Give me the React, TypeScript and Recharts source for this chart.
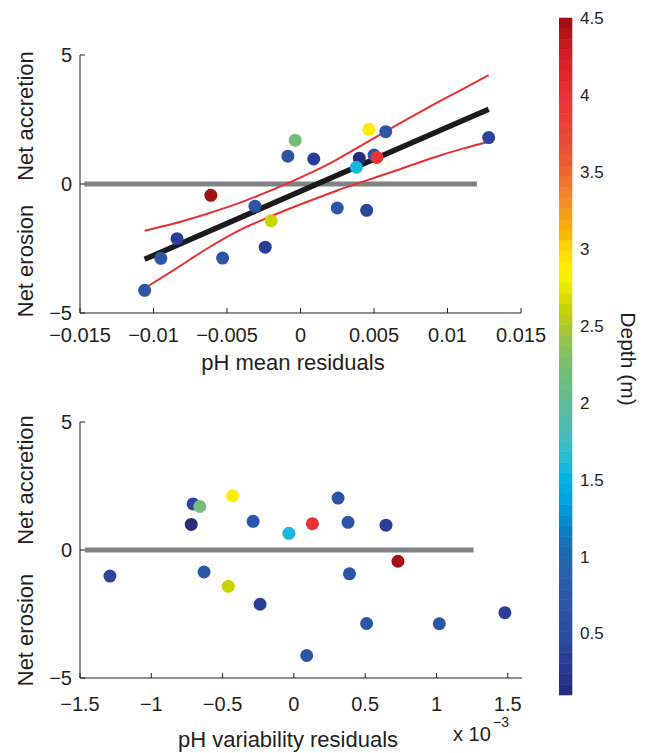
import { ScatterChart, Scatter, XAxis, YAxis, ComposedChart, ReferenceArea } from "recharts";

const FONT = "'Liberation Sans', Arial, Helvetica, sans-serif";
const INK = "#231f20";

// one entry per site (same order in every array)
const netChange = [-4.12, -2.88, -2.87, -2.12, -2.45, -0.44, -0.86, -1.42, -0.93, -1.02, 1.8, 1.08, 1.12, 0.97, 1.0, 1.7, 0.65, 2.12, 2.03, 1.03];
const depth = [0.65, 0.7, 0.65, 0.35, 0.35, 4.5, 0.7, 2.6, 0.7, 0.4, 0.4, 0.7, 0.65, 0.35, 0.15, 2.2, 1.6, 2.85, 0.7, 3.95];
const phMeanResid = [-0.0106, -0.0095, -0.0053, -0.0084, -0.0024, -0.0061, -0.0031, -0.002, 0.0025, 0.0045, 0.0128, -0.00086, 0.005, 0.0009, 0.004, -0.00036, 0.0038, 0.00465, 0.0058, 0.0052];
const phVarResid = [0.09, 1.02, 0.51, -0.237, 1.48, 0.73, -0.63, -0.46, 0.39, -1.29, -0.707, 0.38, -0.286, 0.646, -0.72, -0.66, -0.035, -0.43, 0.31, 0.13]; // x 10^-3

// regression fit and confidence band (top panel)
const fitLine = [{ x: -0.0106, y: -2.92 }, { x: 0.0128, y: 2.9 }];
const upperBand = [
  { x: -0.0106, y: -1.81 }, { x: -0.0086, y: -1.53 }, { x: -0.0064, y: -1.16 }, { x: -0.0041, y: -0.72 },
  { x: -0.0018, y: -0.2 }, { x: 0.0005, y: 0.38 }, { x: 0.002, y: 0.8 }, { x: 0.0043, y: 1.55 },
  { x: 0.0066, y: 2.3 }, { x: 0.0088, y: 3.0 }, { x: 0.0111, y: 3.7 }, { x: 0.0128, y: 4.22 },
];
const lowerBand = [
  { x: -0.0106, y: -4.04 }, { x: -0.0086, y: -3.33 }, { x: -0.0064, y: -2.52 }, { x: -0.0041, y: -1.78 },
  { x: -0.0018, y: -1.2 }, { x: 0.0005, y: -0.68 }, { x: 0.0025, y: -0.25 }, { x: 0.0043, y: 0.1 },
  { x: 0.0066, y: 0.54 }, { x: 0.0088, y: 0.98 }, { x: 0.0111, y: 1.38 }, { x: 0.0128, y: 1.64 },
];
const zeroTop = [{ x: -0.0147, y: 0 }, { x: 0.012, y: 0 }];
const zeroBottom = [{ x: -1.465, y: 0 }, { x: 1.26, y: 0 }];

const meanTicks = [-0.015, -0.01, -0.005, 0, 0.005, 0.01, 0.015];
const varTicks = [-1.5, -1, -0.5, 0, 0.5, 1, 1.5];
const yTicks = [-5, 0, 5];
const depthTicks = [0.5, 1, 1.5, 2, 2.5, 3, 3.5, 4, 4.5];
const depthRange = [0.1, 4.5];

// colormap (depth, colour)
const depthStops: [number, string][] = [
  [0.1, "#262a78"], [0.3, "#2a3a98"], [0.5, "#2c4e9f"], [0.7, "#2b57a5"], [0.9, "#295fac"],
  [1.05, "#1f6bb3"], [1.2, "#0682c4"], [1.35, "#00a0da"], [1.5, "#00b2e3"], [1.65, "#2abcd2"],
  [1.8, "#4bbcba"], [2.0, "#60ba98"], [2.15, "#6fbd80"], [2.3, "#80be6a"], [2.45, "#a0c542"],
  [2.6, "#c6d300"], [2.7, "#e0e000"], [2.85, "#fff200"], [3.0, "#ffd800"], [3.1, "#f9b700"],
  [3.3, "#f3902a"], [3.5, "#ee6530"], [3.7, "#e94a35"], [4.0, "#e83238"], [4.2, "#e01f26"],
  [4.35, "#c0181e"], [4.5, "#9b0f12"],
];
const N_COLORS = 64;

function hexToRgb(h: string) {
  return [1, 3, 5].map((i) => parseInt(h.slice(i, i + 2), 16));
}

function cmap(v: number) {
  const s = depthStops;
  if (v <= s[0][0]) return s[0][1];
  if (v >= s[s.length - 1][0]) return s[s.length - 1][1];
  let i = 0;
  while (s[i + 1][0] < v) i++;
  const t = (v - s[i][0]) / (s[i + 1][0] - s[i][0]);
  const a = hexToRgb(s[i][1]);
  const b = hexToRgb(s[i + 1][1]);
  const c = a.map((av, k) => Math.round(av + (b[k] - av) * t));
  return `rgb(${c[0]},${c[1]},${c[2]})`;
}

const step = (depthRange[1] - depthRange[0]) / N_COLORS;
const segments = Array.from({ length: N_COLORS }, (_, i) => {
  const lo = depthRange[0] + i * step;
  return { lo, hi: lo + step, color: cmap(lo + step / 2) };
});

function depthColor(d: number) {
  const i = Math.min(N_COLORS - 1, Math.max(0, Math.floor((d - depthRange[0]) / step)));
  return segments[i].color;
}

const topPoints = phMeanResid.map((x, i) => ({ x, y: netChange[i], depth: depth[i] }));
const bottomPoints = phVarResid.map((x, i) => ({ x, y: netChange[i], depth: depth[i] }));

const fmt = (v: number) => (v < 0 ? "\u2212" + String(Math.abs(v)) : String(v));

function XTick(props: any) {
  const { x, y, payload, gap } = props;
  const ay = y - gap;
  return (
    <g>
      <line x1={x} x2={x} y1={ay} y2={ay - 5} stroke={INK} strokeWidth={1} />
      <text x={x} y={y} dy="0.71em" textAnchor="middle" fontSize={20} fontFamily={FONT} fill={INK}>
        {fmt(payload.value)}
      </text>
    </g>
  );
}

function YTick(props: any) {
  const { x, y, payload, gap } = props;
  const ax = x + gap;
  return (
    <g>
      <line x1={ax} x2={ax + 5} y1={y} y2={y} stroke={INK} strokeWidth={1} />
      <text x={x} y={y} dy="0.355em" textAnchor="end" fontSize={20} fontFamily={FONT} fill={INK}>
        {fmt(payload.value)}
      </text>
    </g>
  );
}

const dot = (p: any) => <circle cx={p.cx} cy={p.cy} r={6.5} fill={depthColor(p.payload.depth)} />;
const noDot = () => <g />;

function Panel(props: {
  width: number; height: number; margin: any; xDomain: number[]; xTicks: number[];
  xGap: number; xHeight: number; points: any[]; zero: any[]; withFit?: boolean;
}) {
  const { width, height, margin, xDomain, xTicks, xGap, xHeight, points, zero, withFit } = props;
  return (
    <ScatterChart width={width} height={height} margin={margin}>
      <XAxis
        type="number" dataKey="x" domain={xDomain} ticks={xTicks} height={xHeight}
        tickLine={false} tickSize={0} tickMargin={xGap} interval={0}
        axisLine={{ stroke: INK, strokeWidth: 1 }} allowDataOverflow
        tick={(p: any) => <XTick {...p} gap={xGap} />}
      />
      <YAxis
        type="number" dataKey="y" domain={[-5, 5]} ticks={yTicks} width={80}
        tickLine={false} tickSize={0} tickMargin={8} interval={0}
        axisLine={{ stroke: INK, strokeWidth: 1 }} allowDataOverflow
        tick={(p: any) => <YTick {...p} gap={8} />}
      />
      <Scatter data={zero} line={{ stroke: "#808285", strokeWidth: 5 }} shape={noDot} isAnimationActive={false} />
      {withFit && (
        <Scatter data={upperBand} line={{ stroke: "#e8312f", strokeWidth: 2 }} lineJointType="monotoneX" shape={noDot} isAnimationActive={false} />
      )}
      {withFit && (
        <Scatter data={lowerBand} line={{ stroke: "#e8312f", strokeWidth: 2 }} lineJointType="monotoneX" shape={noDot} isAnimationActive={false} />
      )}
      {withFit && (
        <Scatter data={fitLine} line={{ stroke: "#1b1b1d", strokeWidth: 5.5 }} shape={noDot} isAnimationActive={false} />
      )}
      <Scatter data={points} shape={dot} isAnimationActive={false} />
    </ScatterChart>
  );
}

function Colorbar() {
  return (
    <ComposedChart width={73} height={697} margin={{ top: 10, right: 0, bottom: 10, left: 0 }} data={[{ x: 0, y: 1 }]}>
      <XAxis type="number" dataKey="x" domain={[0, 1]} hide />
      <YAxis
        type="number" dataKey="y" orientation="right" domain={depthRange} ticks={depthTicks} width={60}
        tickLine={false} tickSize={0} axisLine={false} tickMargin={8} interval={0}
        tick={{ fontSize: 17, fontFamily: FONT, fill: INK }}
      />
      {segments.map((s, i) => (
        <ReferenceArea key={i} x1={0} x2={1} y1={s.lo} y2={s.hi} fill={s.color} fillOpacity={1} stroke={s.color} strokeWidth={0.6} />
      ))}
    </ComposedChart>
  );
}

export default function App() {
  const label = { fontFamily: FONT, fill: INK };
  return (
    <div style={{ position: "absolute", left: 0, top: 0, width: 649, height: 753, background: "#fff" }}>
      <div style={{ position: "absolute", left: 0, top: 0 }}>
        <Panel
          width={550} height={380} margin={{ top: 55, right: 29, left: 0, bottom: 0 }}
          xDomain={[-0.015, 0.015]} xTicks={meanTicks} xGap={15} xHeight={67}
          points={topPoints} zero={zeroTop} withFit
        />
      </div>
      <div style={{ position: "absolute", left: 0, top: 380 }}>
        <Panel
          width={540} height={373} margin={{ top: 42, right: 18, left: 0, bottom: 0 }}
          xDomain={[-1.5, 1.6]} xTicks={varTicks} xGap={19} xHeight={75}
          points={bottomPoints} zero={zeroBottom}
        />
      </div>
      <div style={{ position: "absolute", left: 559, top: 8 }}>
        <Colorbar />
      </div>
      <svg width={649} height={753} style={{ position: "absolute", left: 0, top: 0, pointerEvents: "none" }}>
        <text {...label} fontSize={22} x={33} y={116} textAnchor="middle" transform="rotate(-90 33 116)">Net accretion</text>
        <text {...label} fontSize={22} x={33} y={261} textAnchor="middle" transform="rotate(-90 33 261)">Net erosion</text>
        <text {...label} fontSize={22} x={33} y={480} textAnchor="middle" transform="rotate(-90 33 480)">Net accretion</text>
        <text {...label} fontSize={22} x={33} y={630} textAnchor="middle" transform="rotate(-90 33 630)">Net erosion</text>
        <text {...label} fontSize={22} x={293} y={370} textAnchor="middle">pH mean residuals</text>
        <text {...label} fontSize={22} x={288} y={747} textAnchor="middle">pH variability residuals</text>
        <text {...label} fontSize={20} x={453} y={741}>x 10</text>
        <text {...label} fontSize={14} x={493} y={727}>{"\u22123"}</text>
        <text {...label} fontSize={21} x={621} y={359} textAnchor="middle" transform="rotate(90 621 359)">Depth (m)</text>
      </svg>
    </div>
  );
}
